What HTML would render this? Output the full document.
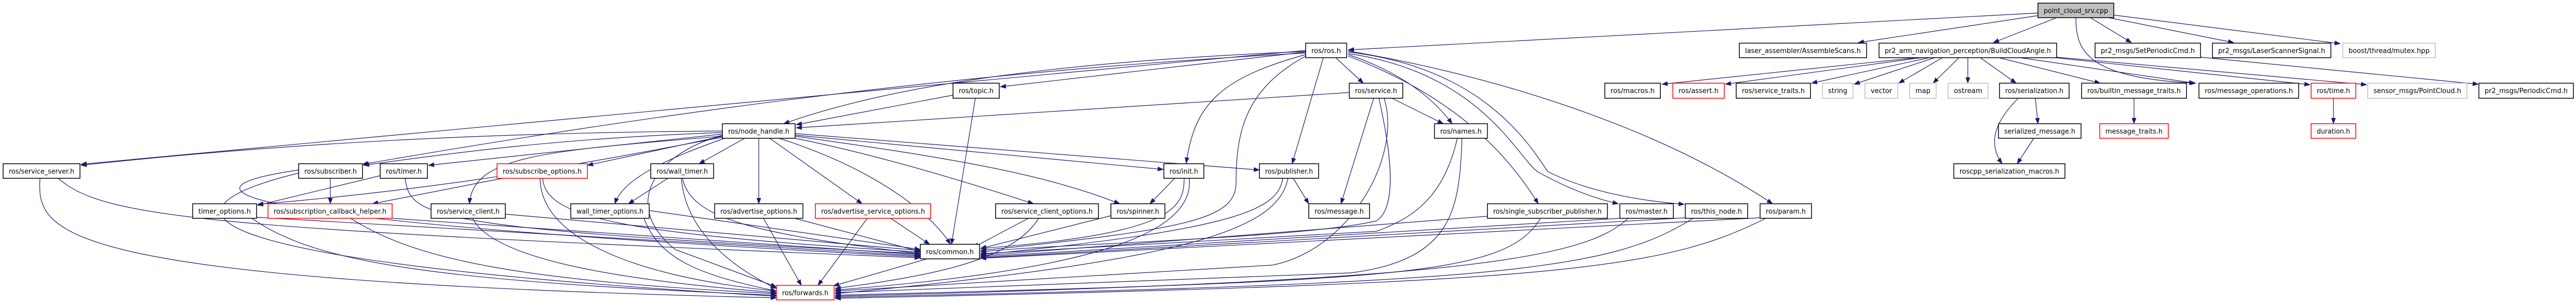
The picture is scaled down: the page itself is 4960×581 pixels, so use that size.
<!DOCTYPE html>
<html><head><meta charset="utf-8"><style>
html,body{margin:0;padding:0;background:#fff;}
svg{display:block;}
text{font-family:"DejaVu Sans","Liberation Sans",sans-serif;font-size:13px;fill:#000;}
.e{fill:none;stroke:#191970;stroke-width:1.2;marker-end:url(#a);}
.n{fill:#fff;stroke:#000;stroke-width:1.5;}
.r{fill:#fff;stroke:#ff0000;stroke-width:1.5;}
.g{fill:#fff;stroke:#bfbfbf;stroke-width:1.5;}
</style></head><body>
<svg width="4960" height="581" viewBox="0 0 4960 581" xmlns="http://www.w3.org/2000/svg">
<defs><marker id="a" markerUnits="userSpaceOnUse" markerWidth="12" markerHeight="9" refX="11" refY="4.5" orient="auto"><path d="M0,0 L12,4.5 L0,9 z" fill="#191970"/></marker></defs>
<g>
<!-- point_cloud_srv edges -->
<path class="e" d="M3924,25 L2596,96"/>
<path class="e" d="M3924,30 L3578,82"/>
<path class="e" d="M3960,34 L3838,82"/>
<path class="e" d="M4025,34 L4104,82"/>
<path class="e" d="M4060,34 L4301,82"/>
<path class="e" d="M4070,29 L4506,84"/>
<path class="e" d="M3997,34 C3997,100 4020,150 4228,160"/>
<path class="e" d="M4237,110 L4772,162"/>
<!-- BuildCloudAngle edges -->
<path class="e" d="M3690,111 L3200,162"/>
<path class="e" d="M3700,111 L3322,162"/>
<path class="e" d="M3715,111 L3488,160"/>
<path class="e" d="M3725,111 L3570,162"/>
<path class="e" d="M3740,111 L3656,160"/>
<path class="e" d="M3772,111 L3722,160"/>
<path class="e" d="M3789,111 L3789,160"/>
<path class="e" d="M3813,111 L3882,160"/>
<path class="e" d="M3849,111 L4044,160"/>
<path class="e" d="M3890,111 L4226,160"/>
<path class="e" d="M3957,111 L4448,163"/>
<path class="e" d="M3960,110 L4557,163"/>
<path class="e" d="M3919,189 L3924,238"/>
<path class="e" d="M3886,189 C3835,240 3830,280 3855,315"/>
<path class="e" d="M3916,266 L3884,315"/>
<path class="e" d="M4109,189 L4109,238"/>
<path class="e" d="M4493,189 L4493,238"/>
<!-- ros.h edges -->
<path class="e" d="M2572,111 L2625,160"/>
<path class="e" d="M2596,105 C2700,140 2760,190 2796,238"/>
<path class="e" d="M2548,111 L2488,315"/>
<path class="e" d="M2596,108 C2760,170 2880,260 2962,392"/>
<path class="e" d="M2596,103 C2850,140 2920,300 2960,330 Q3040,375 3116,392"/>
<path class="e" d="M2596,100 C2850,130 2940,270 2980,330 Q3080,380 3243,393"/>
<path class="e" d="M2596,98 C2900,150 3200,250 3413,392"/>
<path class="e" d="M2514,105 C2350,150 2300,200 2284,314"/>
<path class="e" d="M2514,100 L1926,167"/>
<path class="e" d="M2514,99 C2000,120 1700,170 1509,238"/>
<path class="e" d="M2514,108 C2400,170 2380,250 2380,350 C2380,420 2300,440 1888,482"/>
<path class="e" d="M2514,97 L156,316"/>
<path class="e" d="M2514,102 C1800,140 1200,230 698,316"/>
<!-- topic/service/names -->
<path class="e" d="M1835,183 L1533,240"/>
<path class="e" d="M1878,189 L1832,470"/>
<path class="e" d="M2598,178 L1533,246"/>
<path class="e" d="M2680,189 L2779,238"/>
<path class="e" d="M2645,189 L2582,392"/>
<path class="e" d="M2655,189 C2680,300 2690,400 2650,425 C2500,460 2000,470 1888,485"/>
<path class="e" d="M2665,189 C2700,300 2600,480 2450,510 L1608,560"/>
<path class="e" d="M2806,266 C2780,380 2720,420 2650,445 L1888,488"/>
<path class="e" d="M2815,266 C2810,400 2800,500 2600,525 L1608,563"/>
<path class="e" d="M2490,343 L2520,392"/>
<path class="e" d="M2470,343 C2460,400 2400,440 1888,490"/>
<path class="e" d="M2480,343 C2460,440 2300,500 1608,565"/>
<path class="e" d="M2262,343 L2214,392"/>
<path class="e" d="M2280,343 C2280,400 2260,450 1888,478"/>
<path class="e" d="M2290,343 C2300,450 2100,520 1608,558"/>
<path class="e" d="M2139,415 L1888,478"/>
<path class="e" d="M1980,420 L1874,476"/>
<path class="e" d="M2000,420 C1950,500 1800,530 1608,555"/>
<path class="e" d="M1715,420 L1790,470"/>
<path class="e" d="M1670,420 L1575,549"/>
<path class="e" d="M1530,420 L1772,484"/>
<path class="e" d="M1470,420 L1543,549"/>
<path class="e" d="M1286,343 L1210,392"/>
<path class="e" d="M1314,343 C1330,420 1450,450 1772,488"/>
<path class="e" d="M1312,343 C1320,450 1420,520 1495,555"/>
<path class="e" d="M1250,405 L1772,480"/>
<path class="e" d="M1240,420 C1270,500 1350,530 1495,560"/>
<path class="e" d="M973,412 L1772,482"/>
<path class="e" d="M910,420 C950,500 1200,540 1495,563"/>
<path class="e" d="M968,343 L717,392"/>
<path class="e" d="M1045,343 C1050,420 1200,450 1772,485"/>
<path class="e" d="M1040,343 C1040,450 1200,530 1495,560"/>
<path class="e" d="M755,420 L1772,490"/>
<path class="e" d="M675,420 C800,500 1000,540 1495,565"/>
<path class="e" d="M494,418 L1772,492"/>
<path class="e" d="M485,420 C600,500 800,540 1495,568"/>
<path class="e" d="M732,338 L496,395"/>
<path class="e" d="M780,343 C790,420 830,440 1772,488"/>
<path class="e" d="M636,343 L636,392"/>
<path class="e" d="M575,327 C350,360 330,420 1772,494"/>
<path class="e" d="M575,333 C300,400 300,500 1495,570"/>
<path class="e" d="M112,343 C200,420 400,440 1772,496"/>
<path class="e" d="M77,343 C70,450 100,540 1495,573"/>
<path class="e" d="M2864,416 L1888,492"/>
<path class="e" d="M2966,420 C2900,530 2700,540 1608,568"/>
<path class="e" d="M3119,420 L1888,494"/>
<path class="e" d="M3135,420 C3050,500 2800,540 1608,570"/>
<path class="e" d="M3245,419 L1888,496"/>
<path class="e" d="M3260,420 C3100,520 2900,545 1608,572"/>
<path class="e" d="M3389,419 L1888,497"/>
<path class="e" d="M3400,420 C3200,520 3000,545 1608,574"/>
<path class="e" d="M1785,498 L1605,550"/>
<!-- node_handle edges -->
<path class="e" d="M1391,252 C1000,255 600,270 156,318"/>
<path class="e" d="M1391,255 C1100,265 900,290 700,318"/>
<path class="e" d="M1391,258 L825,318"/>
<path class="e" d="M1391,262 L1131,318"/>
<path class="e" d="M1391,264 C1200,300 900,360 496,393"/>
<path class="e" d="M1391,262 C1050,290 910,300 904,392"/>
<path class="e" d="M1395,266 C1300,300 1200,340 1184,392"/>
<path class="e" d="M1434,266 L1346,315"/>
<path class="e" d="M1461,266 L1461,392"/>
<path class="e" d="M1482,266 L1660,392"/>
<path class="e" d="M1500,266 C1700,330 1800,420 1830,470"/>
<path class="e" d="M1531,266 C1650,290 1800,330 1990,392"/>
<path class="e" d="M1531,262 C1800,300 2000,330 2156,392"/>
<path class="e" d="M1531,260 L2240,326"/>
<path class="e" d="M1531,257 L2425,327"/>
<path class="e" d="M1391,260 C1250,300 1200,400 1300,480 L1495,552"/>
</g>
<g>
<rect x="3924" y="6" width="146" height="28" fill="#bfbfbf" stroke="#000" stroke-width="1.5"/><text x="3997" y="25" text-anchor="middle" textLength="124" lengthAdjust="spacingAndGlyphs">point_cloud_srv.cpp</text>
<rect class="n" x="2514" y="83" width="79" height="28"/><text x="2553.5" y="102" text-anchor="middle" textLength="57" lengthAdjust="spacingAndGlyphs">ros/ros.h</text>
<rect class="n" x="3349" y="83" width="245" height="28"/><text x="3471.5" y="102" text-anchor="middle" textLength="223" lengthAdjust="spacingAndGlyphs">laser_assembler/AssembleScans.h</text>
<rect class="n" x="3618" y="83" width="342" height="28"/><text x="3789" y="102" text-anchor="middle" textLength="320" lengthAdjust="spacingAndGlyphs">pr2_arm_navigation_perception/BuildCloudAngle.h</text>
<rect class="n" x="4034" y="83" width="203" height="28"/><text x="4135.5" y="102" text-anchor="middle" textLength="181" lengthAdjust="spacingAndGlyphs">pr2_msgs/SetPeriodicCmd.h</text>
<rect class="n" x="4260" y="83" width="228" height="28"/><text x="4374" y="102" text-anchor="middle" textLength="206" lengthAdjust="spacingAndGlyphs">pr2_msgs/LaserScannerSignal.h</text>
<rect class="g" x="4511" y="83" width="178" height="28"/><text x="4600" y="102" text-anchor="middle" textLength="156" lengthAdjust="spacingAndGlyphs">boost/thread/mutex.hpp</text>
<rect class="n" x="1835" y="160" width="89" height="29"/><text x="1879.5" y="179" text-anchor="middle" textLength="67" lengthAdjust="spacingAndGlyphs">ros/topic.h</text>
<rect class="n" x="2598" y="160" width="103" height="29"/><text x="2649.5" y="179" text-anchor="middle" textLength="81" lengthAdjust="spacingAndGlyphs">ros/service.h</text>
<rect class="n" x="3090" y="160" width="107" height="29"/><text x="3143.5" y="179" text-anchor="middle" textLength="85" lengthAdjust="spacingAndGlyphs">ros/macros.h</text>
<rect class="r" x="3221" y="160" width="99" height="29"/><text x="3270.5" y="179" text-anchor="middle" textLength="77" lengthAdjust="spacingAndGlyphs">ros/assert.h</text>
<rect class="n" x="3343" y="160" width="143" height="29"/><text x="3414.5" y="179" text-anchor="middle" textLength="121" lengthAdjust="spacingAndGlyphs">ros/service_traits.h</text>
<rect class="g" x="3509" y="160" width="59" height="29"/><text x="3538.5" y="179" text-anchor="middle" textLength="37" lengthAdjust="spacingAndGlyphs">string</text>
<rect class="g" x="3591" y="160" width="63" height="29"/><text x="3622.5" y="179" text-anchor="middle" textLength="41" lengthAdjust="spacingAndGlyphs">vector</text>
<rect class="g" x="3677" y="160" width="51" height="29"/><text x="3702.5" y="179" text-anchor="middle" textLength="29" lengthAdjust="spacingAndGlyphs">map</text>
<rect class="g" x="3751" y="160" width="77" height="29"/><text x="3789.5" y="179" text-anchor="middle" textLength="55" lengthAdjust="spacingAndGlyphs">ostream</text>
<rect class="n" x="3850" y="160" width="134" height="29"/><text x="3917" y="179" text-anchor="middle" textLength="112" lengthAdjust="spacingAndGlyphs">ros/serialization.h</text>
<rect class="n" x="4008" y="160" width="202" height="29"/><text x="4109" y="179" text-anchor="middle" textLength="180" lengthAdjust="spacingAndGlyphs">ros/builtin_message_traits.h</text>
<rect class="n" x="4234" y="160" width="192" height="29"/><text x="4330" y="179" text-anchor="middle" textLength="170" lengthAdjust="spacingAndGlyphs">ros/message_operations.h</text>
<rect class="r" x="4450" y="160" width="86" height="29"/><text x="4493" y="179" text-anchor="middle" textLength="64" lengthAdjust="spacingAndGlyphs">ros/time.h</text>
<rect class="g" x="4559" y="160" width="191" height="29"/><text x="4654.5" y="179" text-anchor="middle" textLength="169" lengthAdjust="spacingAndGlyphs">sensor_msgs/PointCloud.h</text>
<rect class="n" x="4773" y="160" width="182" height="29"/><text x="4864" y="179" text-anchor="middle" textLength="160" lengthAdjust="spacingAndGlyphs">pr2_msgs/PeriodicCmd.h</text>
<rect class="n" x="1391" y="238" width="140" height="28"/><text x="1461" y="257" text-anchor="middle" textLength="118" lengthAdjust="spacingAndGlyphs">ros/node_handle.h</text>
<rect class="n" x="2762" y="238" width="102" height="28"/><text x="2813" y="257" text-anchor="middle" textLength="80" lengthAdjust="spacingAndGlyphs">ros/names.h</text>
<rect class="n" x="3848" y="238" width="159" height="28"/><text x="3927.5" y="257" text-anchor="middle" textLength="137" lengthAdjust="spacingAndGlyphs">serialized_message.h</text>
<rect class="r" x="4043" y="238" width="132" height="28"/><text x="4109" y="257" text-anchor="middle" textLength="110" lengthAdjust="spacingAndGlyphs">message_traits.h</text>
<rect class="r" x="4450" y="238" width="86" height="28"/><text x="4493" y="257" text-anchor="middle" textLength="64" lengthAdjust="spacingAndGlyphs">duration.h</text>
<rect class="n" x="6" y="315" width="148" height="28"/><text x="80" y="334" text-anchor="middle" textLength="126" lengthAdjust="spacingAndGlyphs">ros/service_server.h</text>
<rect class="n" x="575" y="315" width="123" height="28"/><text x="636.5" y="334" text-anchor="middle" textLength="101" lengthAdjust="spacingAndGlyphs">ros/subscriber.h</text>
<rect class="n" x="732" y="315" width="91" height="28"/><text x="777.5" y="334" text-anchor="middle" textLength="69" lengthAdjust="spacingAndGlyphs">ros/timer.h</text>
<rect class="r" x="957" y="315" width="174" height="28"/><text x="1044" y="334" text-anchor="middle" textLength="152" lengthAdjust="spacingAndGlyphs">ros/subscribe_options.h</text>
<rect class="n" x="1253" y="315" width="121" height="28"/><text x="1313.5" y="334" text-anchor="middle" textLength="99" lengthAdjust="spacingAndGlyphs">ros/wall_timer.h</text>
<rect class="n" x="2241" y="315" width="77" height="28"/><text x="2279.5" y="334" text-anchor="middle" textLength="55" lengthAdjust="spacingAndGlyphs">ros/init.h</text>
<rect class="n" x="2425" y="315" width="114" height="28"/><text x="2482" y="334" text-anchor="middle" textLength="92" lengthAdjust="spacingAndGlyphs">ros/publisher.h</text>
<rect class="n" x="3762" y="315" width="214" height="28"/><text x="3869" y="334" text-anchor="middle" textLength="192" lengthAdjust="spacingAndGlyphs">roscpp_serialization_macros.h</text>
<rect class="n" x="371" y="392" width="123" height="28"/><text x="432.5" y="411" text-anchor="middle" textLength="101" lengthAdjust="spacingAndGlyphs">timer_options.h</text>
<rect class="r" x="516" y="392" width="239" height="28"/><text x="635.5" y="411" text-anchor="middle" textLength="217" lengthAdjust="spacingAndGlyphs">ros/subscription_callback_helper.h</text>
<rect class="n" x="830" y="392" width="143" height="28"/><text x="901.5" y="411" text-anchor="middle" textLength="121" lengthAdjust="spacingAndGlyphs">ros/service_client.h</text>
<rect class="n" x="1099" y="392" width="151" height="28"/><text x="1174.5" y="411" text-anchor="middle" textLength="129" lengthAdjust="spacingAndGlyphs">wall_timer_options.h</text>
<rect class="n" x="1376" y="392" width="170" height="28"/><text x="1461" y="411" text-anchor="middle" textLength="148" lengthAdjust="spacingAndGlyphs">ros/advertise_options.h</text>
<rect class="r" x="1570" y="392" width="222" height="28"/><text x="1681" y="411" text-anchor="middle" textLength="200" lengthAdjust="spacingAndGlyphs">ros/advertise_service_options.h</text>
<rect class="n" x="1917" y="392" width="198" height="28"/><text x="2016" y="411" text-anchor="middle" textLength="176" lengthAdjust="spacingAndGlyphs">ros/service_client_options.h</text>
<rect class="n" x="2139" y="392" width="104" height="28"/><text x="2191" y="411" text-anchor="middle" textLength="82" lengthAdjust="spacingAndGlyphs">ros/spinner.h</text>
<rect class="n" x="2520" y="392" width="117" height="28"/><text x="2578.5" y="411" text-anchor="middle" textLength="95" lengthAdjust="spacingAndGlyphs">ros/message.h</text>
<rect class="n" x="2864" y="392" width="231" height="28"/><text x="2979.5" y="411" text-anchor="middle" textLength="209" lengthAdjust="spacingAndGlyphs">ros/single_subscriber_publisher.h</text>
<rect class="n" x="3119" y="392" width="103" height="28"/><text x="3170.5" y="411" text-anchor="middle" textLength="81" lengthAdjust="spacingAndGlyphs">ros/master.h</text>
<rect class="n" x="3245" y="392" width="120" height="28"/><text x="3305" y="411" text-anchor="middle" textLength="98" lengthAdjust="spacingAndGlyphs">ros/this_node.h</text>
<rect class="n" x="3389" y="392" width="99" height="28"/><text x="3438.5" y="411" text-anchor="middle" textLength="77" lengthAdjust="spacingAndGlyphs">ros/param.h</text>
<rect class="n" x="1772" y="470" width="114" height="28"/><text x="1829" y="489" text-anchor="middle" textLength="92" lengthAdjust="spacingAndGlyphs">ros/common.h</text>
<rect class="r" x="1495" y="549" width="111" height="28"/><text x="1550.5" y="568" text-anchor="middle" textLength="89" lengthAdjust="spacingAndGlyphs">ros/forwards.h</text>
</g>
</svg>
</body></html>
